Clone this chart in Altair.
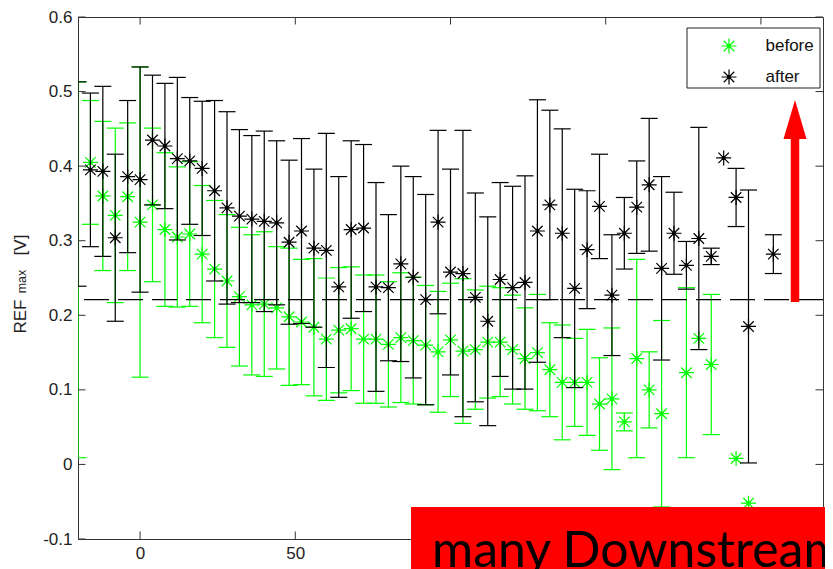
import altair as alt
import pandas as pd

# ---------------- data ----------------
x_pos = [-20, -16, -12, -8, -4, 0, 4, 8, 12, 16, 20, 24, 28, 32, 36, 40, 44, 48,
         52, 56, 60, 64, 68, 72, 76, 80, 84, 88, 92, 96, 100, 104, 108, 112, 116,
         120, 124, 128, 132, 136, 140, 144, 148, 152, 156, 160, 164, 168, 172,
         176, 180, 184, 188, 192, 196, 200, 204]

after_mean = [0.376, 0.395, 0.393, 0.304, 0.386, 0.382, 0.435, 0.427, 0.410, 0.407,
              0.397, 0.367, 0.344, 0.333, 0.329, 0.326, 0.324, 0.298, 0.313, 0.290,
              0.287, 0.238, 0.315, 0.317, 0.238, 0.237, 0.269, 0.251, 0.221, 0.325,
              0.258, 0.256, 0.224, 0.192, 0.248, 0.237, 0.244, 0.313, 0.348, 0.310,
              0.236, 0.288, 0.346, 0.227, 0.310, 0.345, 0.375, 0.263, 0.310, 0.267,
              0.303, 0.279, 0.411, 0.358, 0.185, None, 0.282]
after_err = [0.137, 0.103, 0.114, 0.112, 0.102, 0.151, 0.087, 0.084, 0.109, 0.085,
             0.090, 0.121, 0.129, 0.116, 0.112, 0.121, 0.110, 0.110, 0.124, 0.106,
             0.157, 0.148, 0.119, 0.112, 0.140, 0.098, 0.131, 0.135, 0.141, 0.123,
             0.138, 0.192, 0.140, 0.140, 0.130, 0.136, 0.143, 0.176, 0.127, 0.140,
             0.133, 0.079, 0.070, 0.081, 0.048, 0.062, 0.089, 0.123, 0.055, 0.032,
             0.149, 0.011, 0.0, 0.039, 0.183, None, 0.026]

before_mean = [0.261, 0.405, 0.360, 0.334, 0.359, 0.325, 0.348, 0.315, 0.305, 0.309,
               0.282, 0.262, 0.246, 0.225, 0.214, 0.215, 0.210, 0.198, 0.191, 0.184,
               0.168, 0.180, 0.182, 0.168, 0.168, 0.161, 0.170, 0.166, 0.160, 0.151,
               0.167, 0.152, 0.154, 0.164, 0.164, 0.154, 0.142, 0.150, 0.127, 0.110,
               0.110, 0.110, 0.081, 0.088, 0.057, 0.142, 0.100, 0.068, None, 0.123,
               0.169, 0.134, None, 0.008, -0.052, None, None]
before_err = [0.252, 0.083, 0.100, 0.117, 0.099, 0.208, 0.103, 0.103, 0.094, 0.097,
              0.092, 0.092, 0.089, 0.093, 0.094, 0.097, 0.082, 0.092, 0.084, 0.092,
              0.082, 0.084, 0.083, 0.086, 0.086, 0.084, 0.087, 0.085, 0.080, 0.081,
              0.076, 0.097, 0.080, 0.075, 0.073, 0.073, 0.068, 0.078, 0.063, 0.077,
              0.059, 0.071, 0.062, 0.095, 0.012, 0.133, 0.051, 0.125, None, 0.114,
              0.0, 0.094, None, 0.0, 0.0, None, None]

series_names = ["before", "after"]
series_colors = ["#00ff00", "#000000"]
threshold = [0.221]
x_ticks = [0, 50, 100, 150, 200]
y_ticks = [-0.1, 0, 0.1, 0.2, 0.3, 0.4, 0.5, 0.6]
y_title_parts = ["REF", "max", "[V]"]
annotation_text = ["many Downstream"]

rows = []
for name, means, errs in [("before", before_mean, before_err), ("after", after_mean, after_err)]:
    for xv, m, e in zip(x_pos, means, errs):
        if m is None:
            continue
        rows.append({"x": xv, "series": name, "mean": m, "err": e,
                     "lo": m - e, "hi": m + e})
df = pd.DataFrame(rows)

# ---------------- styles ----------------
W, H = 745, 522
FONT = "Liberation Sans"
ASTER = ("M-1,0L1,0M0,-1L0,1M-0.7,-0.7L0.7,0.7M-0.7,0.7L0.7,-0.7"
         "M-0.18,-0.18L0.18,-0.18L0.18,0.18L-0.18,0.18Z")

XS = alt.Scale(domain=[-20, 220], nice=False, zero=False)
YS = alt.Scale(domain=[-0.1, 0.6], nice=False, zero=False)
XAX = alt.Axis(values=x_ticks, ticks=False, tickSize=0, domain=False, grid=False,
               labelFont=FONT, labelFontSize=17, labelColor="#222", labelPadding=6,
               title=None)
YAX = alt.Axis(values=y_ticks, ticks=False, tickSize=0, domain=False, grid=False,
               labelFont=FONT, labelFontSize=17, labelColor="#222", labelPadding=6,
               title=None,
               labelExpr="datum.value < 0 ? '-' + format(-datum.value, '.1f') : "
                         "(datum.value == 0 ? '0' : format(datum.value, '.1f'))")
CSCALE = alt.Scale(domain=series_names, range=series_colors)
LEG = alt.Legend(title=None, orient="none", legendX=642.5, legendY=20.5,
                 symbolType=ASTER, symbolSize=225, symbolStrokeWidth=1.2,
                 labelFont=FONT, labelFontSize=17, labelColor="#111",
                 labelOffset=28, rowPadding=10, padding=0)
COL = alt.Color("series:N", scale=CSCALE, legend=LEG)


def series_layers(name):
    base = alt.Chart(df).transform_filter(alt.datum.series == name)
    X = alt.X("x:Q", scale=XS, axis=XAX)
    bars = base.transform_filter("datum.err > 0")
    vline = bars.mark_rule(strokeWidth=1.2, clip=True).encode(
        x=X, y=alt.Y("lo:Q", scale=YS, axis=YAX), y2="hi:Q", color=COL)
    cap_lo = bars.mark_tick(orient="horizontal", size=17, thickness=1.2, clip=True,
                            opacity=1).encode(
        x=X, y=alt.Y("lo:Q", scale=YS, axis=YAX), color=COL)
    cap_hi = bars.mark_tick(orient="horizontal", size=17, thickness=1.2, clip=True,
                            opacity=1).encode(
        x=X, y=alt.Y("hi:Q", scale=YS, axis=YAX), color=COL)
    pts = base.transform_filter("datum.x > -20").mark_point(
        shape=ASTER, size=225, filled=False, strokeWidth=1.2, opacity=1, clip=True
    ).encode(x=X, y=alt.Y("mean:Q", scale=YS, axis=YAX), color=COL)
    return [vline, cap_lo, cap_hi, pts]


tick_df = alt.Chart(pd.DataFrame({"v": y_ticks}))
xtick_df = alt.Chart(pd.DataFrame({"v": x_ticks}))
ytick_l = tick_df.mark_rule(color="#333", strokeWidth=1).encode(
    y=alt.Y("v:Q", scale=YS, axis=YAX), x=alt.value(0), x2=alt.value(7.5))
ytick_r = tick_df.mark_rule(color="#333", strokeWidth=1).encode(
    y=alt.Y("v:Q", scale=YS, axis=YAX), x=alt.value(W), x2=alt.value(W - 7.5))
xtick_b = xtick_df.mark_rule(color="#333", strokeWidth=1).encode(
    x=alt.X("v:Q", scale=XS, axis=XAX), y=alt.value(H), y2=alt.value(H - 7.5))
xtick_t = xtick_df.mark_rule(color="#333", strokeWidth=1).encode(
    x=alt.X("v:Q", scale=XS, axis=XAX), y=alt.value(0), y2=alt.value(7.5))

dashed = alt.Chart(pd.DataFrame({"t": threshold})).mark_rule(
    color="black", strokeWidth=1.2, strokeDash=[25, 9]).encode(
    y=alt.Y("t:Q", scale=YS, axis=YAX))

one = alt.Chart(pd.DataFrame({"a": [0]}))
legend_box = one.mark_rect(fill="white", stroke="#222", strokeWidth=1).encode(
    x=alt.value(609), x2=alt.value(742), y=alt.value(11), y2=alt.value(71))

title_parts = alt.Chart(pd.DataFrame({"t": y_title_parts}))
t_ref = title_parts.transform_filter(alt.datum.t == "REF").mark_text(
    angle=270, align="center", baseline="alphabetic", font=FONT, fontSize=17,
    color="#222").encode(text="t:N", x=alt.value(-52), y=alt.value(299.5))
t_max = title_parts.transform_filter(alt.datum.t == "max").mark_text(
    angle=270, align="center", baseline="alphabetic", font=FONT, fontSize=12.5,
    color="#222").encode(text="t:N", x=alt.value(-52), y=alt.value(264.5))
t_v = title_parts.transform_filter(alt.datum.t == "[V]").mark_text(
    angle=270, align="center", baseline="alphabetic", font=FONT, fontSize=17,
    color="#222").encode(text="t:N", x=alt.value(-52), y=alt.value(228))

red_box = one.mark_rect(color="#ff0000", opacity=1, clip=False).encode(
    x=alt.value(333), x2=alt.value(760), y=alt.value(490), y2=alt.value(570))
red_text = alt.Chart(pd.DataFrame({"label": annotation_text})).mark_text(
    font="Lato", fontSize=50, align="left", baseline="alphabetic", color="black",
    clip=False).encode(text="label:N", x=alt.value(354), y=alt.value(550))
arrow_shaft = one.mark_rule(color="#ff0000", strokeWidth=8.5, strokeCap="butt").encode(
    x=alt.value(717), y=alt.value(285), y2=alt.value(118))
arrow_head = one.mark_point(shape="M0,-1.7L1,1.7L-1,1.7Z", size=529, filled=True,
                            color="#ff0000", opacity=1, strokeWidth=0).encode(
    x=alt.value(717), y=alt.value(102.5))

layers = ([legend_box] + series_layers("before") + series_layers("after") +
          [dashed, ytick_l, ytick_r, xtick_b, xtick_t, t_ref, t_max, t_v,
           red_box, red_text, arrow_shaft, arrow_head])

chart = alt.layer(*layers).properties(
    width=W, height=H,
    autosize=alt.AutoSizeParams(type="none"),
    padding={"left": 70, "top": 9, "right": 2, "bottom": 30},
    background="white",
).configure_view(stroke="#333", strokeWidth=1)

chart.save("out.html", embed_options={"renderer": "svg", "actions": False})
